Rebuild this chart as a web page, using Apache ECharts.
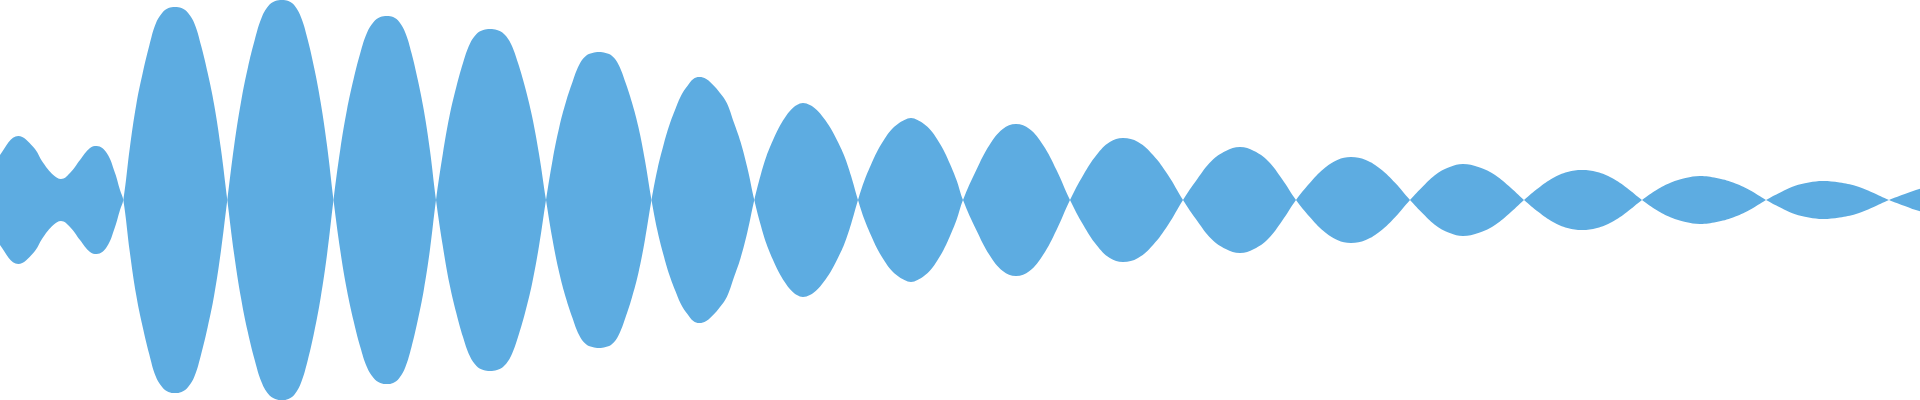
<!DOCTYPE html>
<html>
<head>
<meta charset="utf-8">
<style>
  html, body { margin: 0; padding: 0; background: #ffffff; }
  #chart { width: 1920px; height: 400px; }
</style>
<script src="https://cdn.jsdelivr.net/npm/echarts@6/dist/echarts.min.js"></script>
</head>
<body>
<div id="chart"></div>
<script>
// Sample times (arbitrary units)
const sampleTime = [
  -1.0, 0, 1.83, 3.33, 4.33, 5.33, 6.1, 7.0, 8.0, 9.0, 9.67, 10.67, 11.5, 12.0,
  12.33, 12.98, 13.62, 14.27, 14.92, 15.56, 16.21, 16.85, 17.5, 18.15, 18.81, 19.46, 20.12, 20.77, 21.42, 22.08,
  22.73, 23.41, 24.10, 24.78, 25.47, 26.15, 26.83, 27.52, 28.2, 28.84, 29.49, 30.13, 30.78, 31.42, 32.06, 32.71,
  33.35, 34.02, 34.69, 35.36, 36.03, 36.69, 37.36, 38.03, 38.7, 39.31, 39.93, 40.54, 41.15, 41.76, 42.38, 42.99,
  43.6, 44.28, 44.95, 45.63, 46.3, 46.98, 47.65, 48.33, 49.0, 49.7, 50.4, 51.1, 51.8, 52.5, 53.2, 53.9,
  54.6, 55.26, 55.93, 56.59, 57.25, 57.91, 58.58, 59.24, 59.9, 60.56, 61.21, 61.87, 62.53, 63.18, 63.84, 64.49,
  65.15, 65.75, 66.35, 66.94, 67.54, 68.14, 68.74, 69.33, 69.93, 70.62, 71.31, 72.0, 72.68, 73.37, 74.06, 74.74,
  75.43, 76.04, 76.65, 77.26, 77.87, 78.47, 79.08, 79.69, 80.3, 80.99, 81.68, 82.36, 83.05, 83.74, 84.43, 85.11,
  85.8, 86.46, 87.13, 87.79, 88.45, 89.11, 89.78, 90.44, 91.1, 91.75, 92.4, 93.05, 93.7, 94.35, 95.0, 95.65,
  96.3, 97.63, 98.95, 100.28, 101.6, 102.95, 104.3, 105.65,
  107.0, 108.33, 109.65, 110.98, 112.3, 113.8, 115.3, 116.8,
  118.3, 119.73, 121.15, 122.58, 124.0, 125.4, 126.8, 128.2,
  129.6, 130.98, 132.35, 133.73, 135.1, 136.58, 138.05, 139.53,
  141.0, 142.33, 143.65, 144.98, 146.3, 147.83, 149.35, 150.88,
  152.4, 153.85, 155.3, 156.75, 158.2, 159.7, 161.2, 162.7,
  164.2, 165.65, 167.1, 168.55, 170.0, 171.65, 173.3, 174.95,
  176.6, 178.03, 179.45, 180.88, 182.3, 183.95, 185.6, 187.25,
  188.9, 190.48, 192.05, 193.6, 195.2, 197.0, 199.0, 201.0, 203.0
];
// Signed signal level at each sample
const signalLevel = [
  0.26, 0.45, 0.64, 0.53, 0.37, 0.25, 0.21, 0.27, 0.40, 0.52, 0.54, 0.47, 0.27, 0.10,
  0, -0.52, -0.95, -1.27, -1.54, -1.76, -1.87, -1.92, -1.93, -1.92, -1.87, -1.76, -1.54, -1.27, -0.95, -0.52,
  0, 0.54, 0.98, 1.32, 1.60, 1.82, 1.94, 1.99, 2.00, 1.99, 1.94, 1.82, 1.60, 1.32, 0.98, 0.54,
  0, -0.50, -0.90, -1.21, -1.47, -1.67, -1.78, -1.83, -1.84, -1.83, -1.78, -1.67, -1.47, -1.21, -0.90, -0.50,
  0, 0.46, 0.84, 1.13, 1.37, 1.56, 1.66, 1.70, 1.71, 1.70, 1.66, 1.56, 1.37, 1.13, 0.84, 0.46,
  0, -0.40, -0.73, -0.98, -1.18, -1.35, -1.44, -1.47, -1.48, -1.47, -1.44, -1.35, -1.18, -0.98, -0.73, -0.40,
  0, 0.31, 0.55, 0.75, 0.91, 1.05, 1.14, 1.21, 1.23, 1.21, 1.15, 1.07, 0.97, 0.78, 0.58, 0.32,
  0, -0.24, -0.44, -0.59, -0.72, -0.82, -0.90, -0.95, -0.97, -0.95, -0.90, -0.82, -0.72, -0.59, -0.44, -0.24,
  0, 0.20, 0.36, 0.50, 0.61, 0.70, 0.76, 0.80, 0.82, 0.80, 0.76, 0.70, 0.61, 0.50, 0.36, 0.20,
  0, -0.30, -0.55, -0.71, -0.76, -0.71, -0.55, -0.30,
  0, 0.25, 0.45, 0.58, 0.62, 0.58, 0.45, 0.25,
  0, -0.21, -0.39, -0.49, -0.53, -0.49, -0.39, -0.21,
  0, 0.17, 0.31, 0.40, 0.43, 0.40, 0.31, 0.17,
  0, -0.14, -0.26, -0.33, -0.36, -0.33, -0.26, -0.14,
  0, 0.12, 0.22, 0.28, 0.30, 0.28, 0.22, 0.12,
  0, -0.10, -0.175, -0.22, -0.24, -0.22, -0.175, -0.10,
  0, 0.075, 0.14, 0.175, 0.19, 0.175, 0.14, 0.075,
  0, -0.06, -0.115, -0.145, -0.155, -0.14, -0.11, -0.06, 0
];
const fillColor = '#5dace1';

const upper = sampleTime.map((t, i) => [t, signalLevel[i]]);
const mirrored = sampleTime.map((t, i) => [t, -signalLevel[i]]);

const chart = echarts.init(document.getElementById('chart'));
chart.setOption({
  animation: false,
  grid: { left: 0, right: 0, top: 0, bottom: 0 },
  xAxis: { type: 'value', min: 0, max: 192, show: false },
  yAxis: { type: 'value', min: -2, max: 2, show: false },
  series: [
    {
      type: 'line', data: upper, smooth: 0.4, showSymbol: false, symbol: 'none',
      lineStyle: { width: 0, opacity: 0 },
      areaStyle: { color: fillColor, opacity: 1 },
      clip: true
    },
    {
      type: 'line', data: mirrored, smooth: 0.4, showSymbol: false, symbol: 'none',
      lineStyle: { width: 0, opacity: 0 },
      areaStyle: { color: fillColor, opacity: 1 },
      clip: true
    }
  ]
});
</script>
</body>
</html>
